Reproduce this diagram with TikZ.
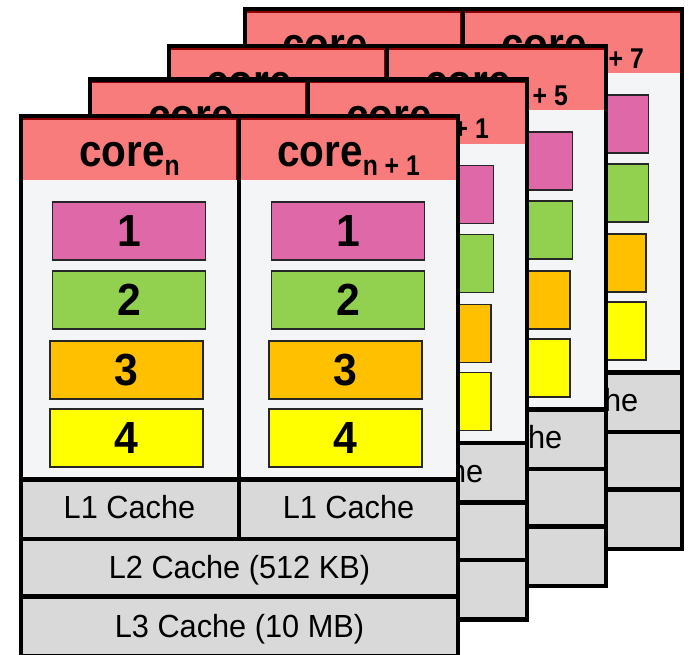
\documentclass[tikz,border=0pt]{standalone}
\usepackage{fontspec}
\usepackage{graphicx}
\setmainfont{Liberation Sans}
\definecolor{headc}{HTML}{F97C7C}
\definecolor{hdrline}{HTML}{8B0000}
\definecolor{bodyc}{HTML}{F4F5F7}
\definecolor{cachec}{HTML}{D9D9D9}
\definecolor{ca}{HTML}{DE68A8}
\definecolor{cb}{HTML}{92D050}
\definecolor{cc}{HTML}{FFC000}
\definecolor{cd}{HTML}{FFFF00}
\tikzset{
  frameline/.style={line width=4.3pt, black},
  hdrborder/.style={line width=1.6pt, hdrline},
  unitbox/.style={draw=black!85, line width=1.3pt},
  corelabel/.style={anchor=base, inner sep=0pt, font=\bfseries},
  numlabel/.style={anchor=base, inner sep=0pt, font=\bfseries\fontsize{45}{45}\selectfont},
  cachelabel/.style={anchor=base, inner sep=0pt, font=\fontsize{32}{32}\selectfont},
}
\newcommand\coretext[1]{\scalebox{0.9}[1]{\fontsize{45}{45}\selectfont core}\raisebox{-8.5pt}{\scalebox{0.95}[1.1]{\fontsize{26}{26}\selectfont #1}}}
\newcommand\cachetext[1]{\scalebox{0.96}[1]{#1}}
% #1 id, #2 x, #3 y, #4 left subscript, #5 right subscript
\newcommand\corelayer[5]{%
\begin{scope}[shift={(#2,#3)}]
  \fill[bodyc] (0,0) rectangle (437,363.5);
  \fill[cachec] (0,363.5) rectangle (437,540);
  \fill[headc] (0,0) rectangle (437,64);
  \draw[hdrborder] (0,3) -- (437,3);
  \draw[hdrborder] (215.4,3) -- (215.4,64);
  \foreach \c/\cx in {a/0, b/219} {
    \foreach \i/\col/\ya/\yb/\dx in {1/ca/86/144/0, 2/cb/155/213/0, 3/cc/225/283/-2.5, 4/cd/293/351/-2.5} {
      \draw[unitbox, fill=\col] (\cx+31.5+\dx,\ya) rectangle (\cx+184.5+\dx,\yb);
      \node[numlabel] (num#1\c\i) at (\cx+108+\dx,\ya+44.5) {\scalebox{0.95}[1]{\i}};
    }
    \node[cachelabel] (lone#1\c) at (\cx+108.5,402.5) {\cachetext{L1 Cache}};
  }
  \node[corelabel] (hdr#1a) at (108.5,50.7) {\coretext{#4}};
  \node[corelabel] (hdr#1b) at (327.5,50.7) {\coretext{#5}};
  \node[cachelabel] (ltwo#1) at (218.5,462) {\cachetext{L2 Cache (512 KB)}};
  \node[cachelabel] (lthree#1) at (218.5,521) {\cachetext{L3 Cache (10 MB)}};
  \draw[frameline] (0,363.5) -- (437,363.5);
  \draw[frameline] (0,423) -- (437,423);
  \draw[frameline] (0,480.5) -- (437,480.5);
  \draw[frameline] (218,0) -- (218,423);
  \draw[frameline] (0,0) rectangle (437,540);
\end{scope}}
\begin{document}
\begin{tikzpicture}[x=1pt,y=-1pt]
  \useasboundingbox (0,0) rectangle (690,654);
  \corelayer{d}{245}{9}{n + 6}{n + 7}
  \corelayer{c}{169}{46}{n + 4}{n + 5}
  \corelayer{b}{90}{79.5}{n}{n + 1}
  \corelayer{a}{21}{116}{n}{n + 1}
\end{tikzpicture}
\end{document}
